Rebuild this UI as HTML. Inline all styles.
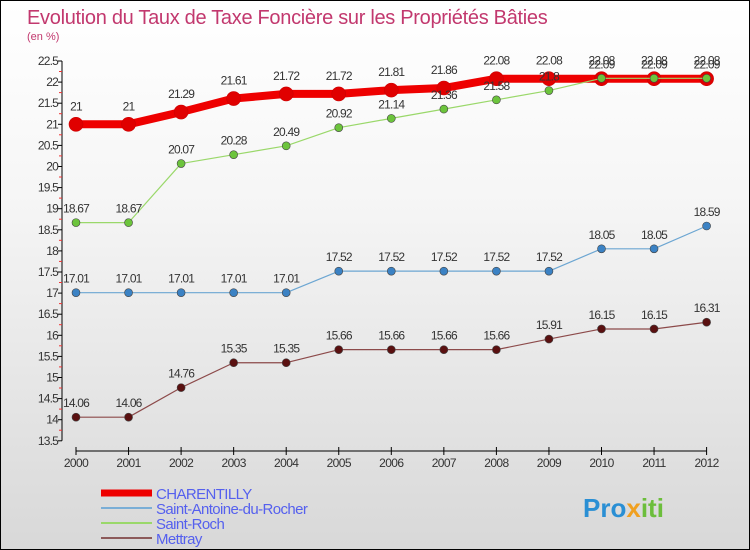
<!DOCTYPE html>
<html><head><meta charset="utf-8">
<style>
body{margin:0;}
#wrap{position:relative;width:748px;height:548px;border:1px solid #000;background:linear-gradient(#fff 0%,#f6f6f6 35%,#d8d8d8 100%);overflow:hidden;font-family:"Liberation Sans",sans-serif;}
</style></head><body>
<div id="wrap">
<svg id="chart" width="748" height="548" xmlns="http://www.w3.org/2000/svg" style="font-family:'Liberation Sans',sans-serif">
<text x="26" y="23" font-size="20" fill="#c2386e" letter-spacing="-0.3">Evolution du Taux de Taxe Foncière sur les Propriétés Bâties</text>
<text x="26" y="39" font-size="11" fill="#c2386e">(en %)</text>
<g id="axes"></g><g id="series"></g><g id="legend"></g>
<text x="582" y="516" font-size="26" font-weight="bold" fill="#2a8fd4">Pro<tspan fill="#f0a020">x</tspan><tspan fill="#6cbe3c">iti</tspan></text>
</svg>
</div>
<script>
const years=[2000,2001,2002,2003,2004,2005,2006,2007,2008,2009,2010,2011,2012];
const yTicks=[13.5,14,14.5,15,15.5,16,16.5,17,17.5,18,18.5,19,19.5,20,20.5,21,21.5,22,22.5];
const charentilly=[21,21,21.29,21.61,21.72,21.72,21.81,21.86,22.08,22.08,22.08,22.08,22.08];
const saintAntoine=[17.01,17.01,17.01,17.01,17.01,17.52,17.52,17.52,17.52,17.52,18.05,18.05,18.59];
const saintRoch=[18.67,18.67,20.07,20.28,20.49,20.92,21.14,21.36,21.58,21.8,22.09,22.09,22.09];
const mettray=[14.06,14.06,14.76,15.35,15.35,15.66,15.66,15.66,15.66,15.91,16.15,16.15,16.31];
const names=["CHARENTILLY","Saint-Antoine-du-Rocher","Saint-Roch","Mettray"];
const NS="http://www.w3.org/2000/svg";
const xS=i=>75+i*52.55;
const yS=v=>60+(22.5-v)*42.2;
function mk(t,a,p){const e=document.createElementNS(NS,t);for(const k in a)e.setAttribute(k,a[k]);p.appendChild(e);return e;}
const axes=document.getElementById('axes');
let l=mk('line',{x1:61,y1:yS(22.5),x2:61,y2:yS(13.5),stroke:'#000'},axes);


yTicks.forEach((v,k)=>{
  const y=yS(v);
  const t=mk('line',{x1:57,y1:y,x2:61,y2:y,stroke:'#000'},axes);
  
  
  if(k>0){
    const m=mk('line',{x1:58,y1:y+10.5,x2:61,y2:y+10.5,stroke:'#e33'},axes);
    
    
  }
  const tx=mk('text',{x:57,y:y+4,'font-size':12,'text-anchor':'end',fill:'#333','letter-spacing':'-0.8'},axes);
  tx.textContent=String(v);
  
  
});
l=mk('line',{x1:75,y1:450,x2:xS(12),y2:450,stroke:'#000'},axes);


years.forEach((yr,i)=>{
  const t=mk('line',{x1:xS(i),y1:446,x2:xS(i),y2:454,stroke:'#000'},axes);
  
  
  const tx=mk('text',{x:xS(i),y:466,'font-size':12,'text-anchor':'middle',fill:'#333','letter-spacing':'-0.6'},axes);
  tx.textContent=yr;
  
  
});
const ser=document.getElementById('series');
const defs=[[mettray,'#8c4a4a',1.2,'#5a1010',4,'mettray'],[saintAntoine,'#6ca6d2',1.2,'#3b82c4',4,'saint-antoine'],[charentilly,'#ee0000',8,'#e00000',7,'charentilly'],[saintRoch,'#9ad86a',1.2,'#6cc43c',4,'saint-roch']];
defs.forEach(([d,c,w,pc,r,n])=>{
  const g=mk('g',{},ser);
  
  
  const p=mk('polyline',{points:d.map((v,i)=>xS(i)+','+yS(v)).join(' '),fill:'none',stroke:c,'stroke-width':w,'stroke-linejoin':'round'},g);
  
  
  d.forEach((v,i)=>{
    const ci=mk('circle',{cx:xS(i),cy:yS(v),r:r,fill:pc,stroke:r>5?'#c00':'#444','stroke-width':0.6},g);
    
    
    const tx=mk('text',{x:xS(i),y:yS(v)-(r>5?14:10),'font-size':12,'text-anchor':'middle',fill:'#333','letter-spacing':'-0.8'},g);
    tx.textContent=String(v);
    
    
  });
});
const lg=document.getElementById('legend');
const lc=[['#ee0000',7],['#7aaed6',2],['#9ad86a',2],['#8c5a5a',2]];
names.forEach((n,i)=>{
  const y=492+i*15;
  const g=mk('g',{},lg);
  
  
  mk('line',{x1:100,y1:y,x2:151,y2:y,stroke:lc[i][0],'stroke-width':lc[i][1]},g);
  const tx=mk('text',{x:155,y:y+6,'font-size':15,fill:'#5560ee','letter-spacing':'-0.6'},g);
  tx.textContent=n;
  
  
});
</script>
</body></html>
